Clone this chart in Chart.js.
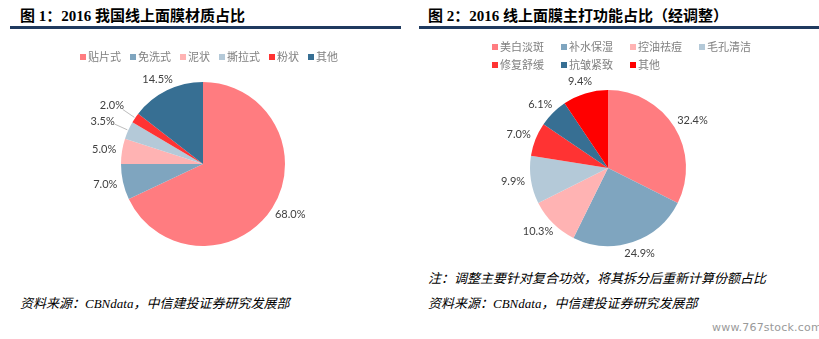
<!DOCTYPE html>
<html>
<head>
<meta charset="utf-8">
<script src="https://cdn.jsdelivr.net/npm/chart.js@4.4.0/dist/chart.umd.min.js"></script>
<style>
  body { margin: 0; width: 819px; height: 339px; background: #fff; position: relative; overflow: hidden; }
  .title { position: absolute; top: 4px; font: bold 15px "Liberation Serif", "Noto Sans CJK SC", serif; color: #000; white-space: nowrap; }
  .rule { position: absolute; top: 26px; height: 3px; background: #1f3a5f; }
  .note { position: absolute; font: italic 13px "Liberation Serif", "Noto Sans CJK SC", serif; color: #000; white-space: nowrap; }
  .wm { position: absolute; left: 712px; top: 321px; font: 11px "DejaVu Sans", sans-serif; color: #9a9a9a; letter-spacing: 0.2px; }
  canvas { position: absolute; }
</style>
</head>
<body>
<div class="title" style="left:20px">图 1：2016 我国线上面膜材质占比</div>
<div class="rule" style="left:10px;width:391px"></div>
<div class="title" style="left:428px">图 2：2016 线上面膜主打功能占比（经调整）</div>
<div class="rule" style="left:419px;width:400px"></div>

<div style="position:absolute;left:0;top:30px;width:406px;height:230px"><canvas id="chart1"></canvas></div>
<div style="position:absolute;left:410px;top:30px;width:396px;height:230px"><canvas id="chart2"></canvas></div>

<div class="note" style="left:20px;top:293px">资料来源：CBNdata，中信建投证券研究发展部</div>
<div class="note" style="left:428px;top:268px">注：调整主要针对复合功效，将其拆分后重新计算份额占比</div>
<div class="note" style="left:428px;top:293px">资料来源：CBNdata，中信建投证券研究发展部</div>
<div class="wm">www.767stock.com</div>

<script>
// chart 1 - material
const material_labels = ["贴片式", "免洗式", "泥状", "撕拉式", "粉状", "其他"];
const material_values = [68.0, 7.0, 5.0, 3.5, 2.0, 14.5];
const material_colors = ["#ff7c80", "#7fa5bf", "#ffb3b3", "#b4c9d8", "#ff3333", "#376f93"];

// chart 2 - function (adjusted)
const function_labels = ["美白淡斑", "补水保湿", "控油祛痘", "毛孔清洁", "修复舒缓", "抗皱紧致", "其他"];
const function_values = [32.4, 24.9, 10.3, 9.9, 7.0, 6.1, 9.4];
const function_colors = ["#ff7c80", "#7fa5bf", "#ffb3b3", "#b4c9d8", "#ff3333", "#376f93", "#ff0000"];

//legend drawn in rows/columns like the excel one
const boxLegend = {
    id: "boxLegend",
    afterDraw(chart, args, opts) {
        const ctx = chart.ctx;
        const labels = chart.data.labels;
        const colors = chart.data.datasets[0].backgroundColor;
        ctx.save();
        ctx.font = "11px 'Noto Sans CJK SC', sans-serif";
        ctx.textBaseline = "middle";
        let x = opts.x, y = opts.y;
        labels.forEach((lab, i) => {
            if (opts.colStep) {
                x = opts.x + (i % opts.cols) * opts.colStep;
                y = opts.y + Math.floor(i / opts.cols) * opts.rowStep;
            }
            ctx.fillStyle = colors[i];
            ctx.fillRect(x, y - 3, 6, 6);
            ctx.fillStyle = "#808080";
            ctx.textAlign = "left";
            ctx.fillText(lab, x + 8, y);
            if (!opts.colStep) x += 8 + ctx.measureText(lab).width + 9;
        });
        ctx.restore();
    }
};

//percent labels outside the slices
const outsideLabels = {
    id: "outsideLabels",
    afterDatasetsDraw(chart) {
        const ctx = chart.ctx;
        const meta = chart.getDatasetMeta(0);
        const values = chart.data.datasets[0].data;
        ctx.save();
        ctx.font = "11px Lato, 'Noto Sans', sans-serif";
        ctx.fillStyle = "#404040";
        ctx.textAlign = "center";
        ctx.textBaseline = "middle";
        meta.data.forEach((arc, i) => {
            const mid = (arc.startAngle + arc.endAngle) / 2;
            const dx = Math.cos(mid), dy = Math.sin(mid);
            const small = values[i] < 4;
            const d = arc.outerRadius + (small ? 16 : 6);
            const txt = values[i].toFixed(1) + "%";
            const w = ctx.measureText(txt).width;
            const cx = arc.x + dx * d + dx * w / 2;
            const cy = arc.y + dy * d + dy * 6;
            if (small) {
                ctx.strokeStyle = "#a6a6a6";
                ctx.lineWidth = 0.75;
                ctx.beginPath();
                ctx.moveTo(arc.x + dx * (arc.outerRadius + 1), arc.y + dy * (arc.outerRadius + 1));
                ctx.lineTo(arc.x + dx * (d - 1), arc.y + dy * (d - 1));
                ctx.stroke();
            }
            ctx.fillText(txt, cx, cy);
        });
        ctx.restore();
    }
};

function makePie(id, labels, values, colors, padding, legendOpts) {
    return new Chart(document.getElementById(id), {
        type: "pie",
        data: {
            labels: labels,
            datasets: [{
                data: values,
                backgroundColor: colors,
                borderWidth: 0
            }]
        },
        options: {
            responsive: true,
            maintainAspectRatio: false,
            animation: false,
            layout: { padding: padding },
            plugins: {
                legend: { display: false },
                tooltip: { enabled: false },
                boxLegend: legendOpts
            }
        },
        plugins: [boxLegend, outsideLabels]
    });
}

makePie("chart1", material_labels, material_values, material_colors,
    { top: 52, bottom: 14, left: 0, right: 0 },
    { x: 80, y: 27 });

makePie("chart2", function_labels, function_values, function_colors,
    { top: 60, bottom: 14, left: 0, right: 0 },
    { x: 82, y: 17, cols: 4, colStep: 69, rowStep: 18 });
</script>
</body>
</html>
